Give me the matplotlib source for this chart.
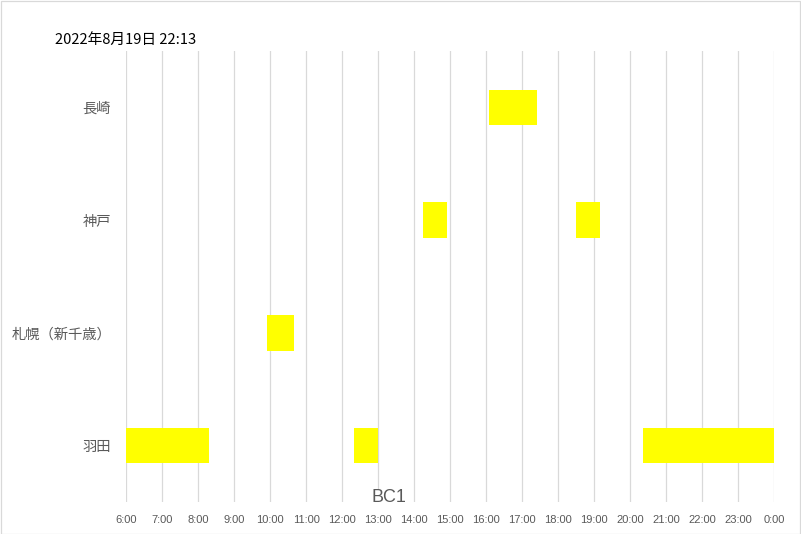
import matplotlib
matplotlib.use("Agg")
import matplotlib.pyplot as plt

# categories, bottom to top
categories = ["羽田", "札幌（新千歳）", "神戸", "長崎"]

# bar start / end times in hours, one list per category
haneda_start = [6.0, 12.33, 20.35]
haneda_end = [8.3, 13.0, 24.0]
sapporo_start = [9.92]
sapporo_end = [10.67]
kobe_start = [14.25, 18.5]
kobe_end = [14.92, 19.17]
nagasaki_start = [16.08]
nagasaki_end = [17.42]

hours = list(range(6, 25))
hour_labels = [f"{h % 24}:00" for h in hours]

title_text = "2022年8月19日 22:13"
axis_title = "BC1"

GREY = "#595959"
CJK = ["Noto Sans CJK JP", "DejaVu Sans"]

fig = plt.figure(figsize=(8.01, 5.34), dpi=100)
ax = fig.add_axes([126.3 / 801, 32 / 534, 648 / 801, 451 / 534])

starts = [haneda_start, sapporo_start, kobe_start, nagasaki_start]
ends = [haneda_end, sapporo_end, kobe_end, nagasaki_end]
for i, (s, e) in enumerate(zip(starts, ends)):
    ax.barh([i] * len(s), [b - a for a, b in zip(s, e)], left=s,
            height=0.317, color="#ffff00", zorder=3)

ax.set_xlim(6, 24)
ax.set_ylim(-0.5, 3.5)
ax.set_xticks(hours)
ax.set_xticklabels(hour_labels, fontsize=8, color=GREY, family="Liberation Sans")
ax.set_yticks(range(len(categories)))
ax.set_yticklabels(categories, fontsize=10.3, color=GREY, family=CJK)
ax.tick_params(axis="both", length=0)
ax.tick_params(axis="x", pad=9.5)
ax.tick_params(axis="y", pad=11)
ax.grid(axis="x", color="#d9d9d9", linewidth=0.9, zorder=0)
for sp in ax.spines.values():
    sp.set_visible(False)

fig.text(55 / 801, 1 - 40 / 534, title_text, fontsize=10.6, color="black",
         family=CJK, va="center", ha="left",
         bbox=dict(facecolor="white", edgecolor="none", pad=1))
fig.text(389 / 801, 1 - 498 / 534, axis_title, fontsize=13, color=GREY,
         family="Liberation Sans", va="center", ha="center",
         bbox=dict(facecolor="white", edgecolor="none", pad=0.5))

# chart area border
fig.patches.append(plt.Rectangle((0.5 / 801, 0.5 / 534), 799.5 / 801, 532.5 / 534,
                                 transform=fig.transFigure, fill=False,
                                 edgecolor="#d9d9d9", linewidth=0.9))

fig.savefig("out.png", dpi=100)
